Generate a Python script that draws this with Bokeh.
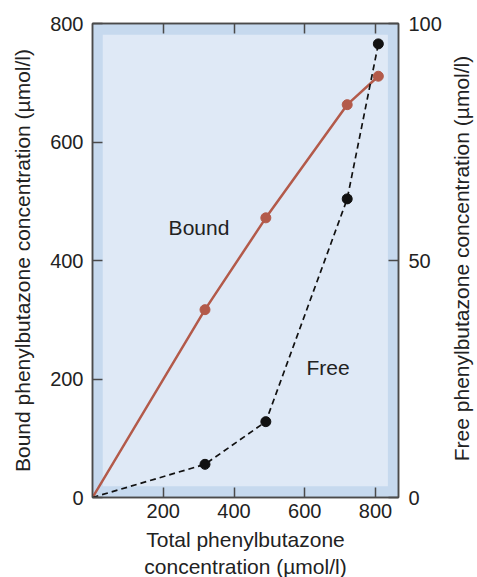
from bokeh.plotting import figure
from bokeh.layouts import row
from bokeh.models import Range1d, LinearAxis, FixedTicker, BoxAnnotation
from bokeh.embed import file_html
from bokeh.resources import INLINE
from bokeh.core.properties import value

# Data
total = [0, 318, 490, 720, 808]          # total phenylbutazone (µmol/l)
bound = [0, 317, 472, 663, 711]          # bound (left axis)
free = [0, 7.0, 16.0, 63.0, 95.7]        # free (right axis)
x_ticks = [200, 400, 600, 800]
left_ticks = [0, 200, 400, 600, 800]
right_ticks = [0, 50, 100]
labels = ["Bound", "Free"]
label_x = [301, 666]
label_y = [456, 219]
right_title = "Free phenylbutazone concentration (µmol/l)"

FONT = "Liberation Sans"
TXT = "#222222"
AX = "#4a4a4a"
RED = "#b35a4a"

p = figure(frame_width=306, frame_height=474,
           x_range=Range1d(0, 865), y_range=Range1d(0, 800),
           output_backend="svg", toolbar_location=None,
           min_border_left=92, min_border_right=45,
           min_border_top=23, min_border_bottom=80,
           background_fill_color="#c6d9ee", border_fill_color="white",
           outline_line_color=AX, outline_line_width=1.5)
p.grid.visible = False
p.extra_y_ranges = {"free": Range1d(0, 100)}

p.add_layout(BoxAnnotation(left=29, right=835, bottom=19, top=781,
                           fill_color="#dfe9f6", fill_alpha=1.0,
                           line_color=None, level="underlay"))

def style(ax, size="20px"):
    ax.axis_line_color = AX
    ax.axis_line_width = 1.5
    ax.major_tick_line_color = AX
    ax.major_tick_line_width = 1.5
    ax.major_tick_in = 10
    ax.major_tick_out = 0
    ax.minor_tick_line_color = None
    ax.major_label_text_font = FONT
    ax.major_label_text_font_size = size
    ax.major_label_text_color = TXT
    ax.axis_label_text_font = FONT
    ax.axis_label_text_font_size = "21px"
    ax.axis_label_text_font_style = "normal"
    ax.axis_label_text_color = TXT

xb = p.xaxis[0]
xb.ticker = FixedTicker(ticks=x_ticks)
xb.axis_label = "Total phenylbutazone\nconcentration (µmol/l)"
style(xb)
xb.major_label_standoff = 6
xb.axis_label_standoff = 7

yl = p.yaxis[0]
yl.ticker = FixedTicker(ticks=left_ticks)
yl.axis_label = "Bound phenylbutazone concentration (µmol/l)"
style(yl)
yl.major_label_standoff = 9
yl.axis_label_standoff = 13

yr = LinearAxis(y_range_name="free", ticker=FixedTicker(ticks=right_ticks))
style(yr)
yr.major_label_standoff = 10
p.add_layout(yr, "right")

xt = LinearAxis(ticker=FixedTicker(ticks=x_ticks))
style(xt)
xt.major_label_overrides = {t: "" for t in x_ticks}
xt.major_label_text_font_size = "8px"
xt.major_label_standoff = 0
p.add_layout(xt, "above")

# Bound (solid red)
p.line(total, bound, line_color=RED, line_width=2.5)
p.scatter(total[1:], bound[1:], size=10, fill_color=RED, line_color=RED)

# Free (dashed black) on right axis
p.line(total, free, y_range_name="free", line_color="#111111",
       line_width=1.7, line_dash="6 4")
p.scatter(total[1:], free[1:], y_range_name="free", size=10,
          fill_color="#111111", line_color="#111111")

p.text(label_x, label_y, text=labels, text_font=value(FONT),
       text_font_size="21px", text_color=TXT,
       text_align="center", text_baseline="middle")

# Narrow strip holding the right-hand axis title (reads bottom-to-top)
p2 = figure(width=34, height=577, title=right_title, title_location="left",
            output_backend="svg", toolbar_location=None,
            x_axis_location=None, y_axis_location=None,
            min_border_left=28, min_border_right=0,
            min_border_top=23, min_border_bottom=80,
            background_fill_color="white", border_fill_color="white",
            outline_line_color=None)
p2.grid.visible = False
p2.title.text_font = FONT
p2.title.text_font_size = "21px"
p2.title.text_font_style = "normal"
p2.title.text_color = TXT
p2.title.align = "center"
p2.title.standoff = 0

layout = row(p, p2, spacing=0)
open("out.html", "w").write(file_html(layout, INLINE))
